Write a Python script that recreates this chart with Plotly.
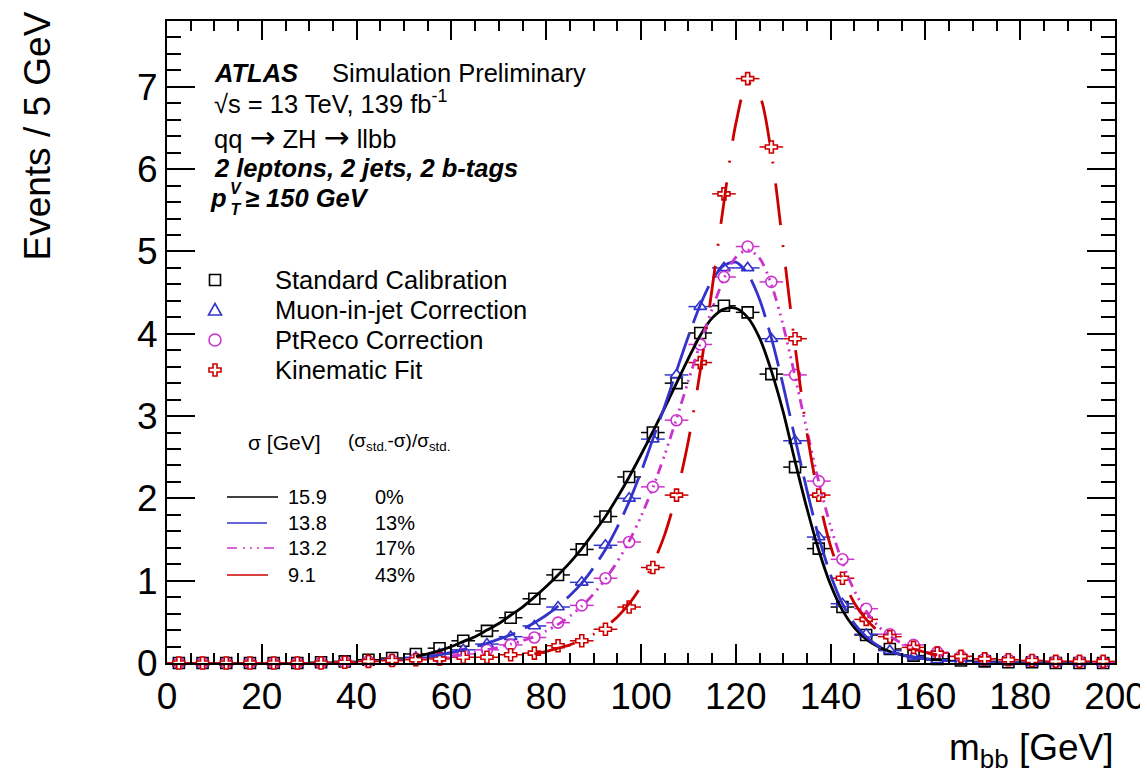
import plotly.graph_objects as go

# ---------------- data ----------------
bin_centers = [2.5, 7.5, 12.5, 17.5, 22.5, 27.5, 32.5, 37.5, 42.5, 47.5,
               52.5, 57.5, 62.5, 67.5, 72.5, 77.5, 82.5, 87.5, 92.5, 97.5,
               102.5, 107.5, 112.5, 117.5, 122.5, 127.5, 132.5, 137.5, 142.5, 147.5,
               152.5, 157.5, 162.5, 167.5, 172.5, 177.5, 182.5, 187.5, 192.5, 197.5]
bin_half_width = 2.5

std_vals = [0.0, 0.0, 0.0, 0.0, 0.0, 0.0, 0.01, 0.02, 0.04, 0.06,
            0.11, 0.18, 0.27, 0.39, 0.55, 0.78, 1.07, 1.38, 1.78, 2.26,
            2.80, 3.40, 4.01, 4.34, 4.26, 3.51, 2.38, 1.39, 0.68, 0.34,
            0.17, 0.09, 0.05, 0.03, 0.02, 0.01, 0.01, 0.0, 0.0, 0.0]
muon_vals = [0.0, 0.0, 0.0, 0.0, 0.0, 0.0, 0.0, 0.01, 0.02, 0.04,
             0.07, 0.11, 0.16, 0.23, 0.32, 0.45, 0.68, 0.98, 1.43, 2.00,
             2.72, 3.50, 4.33, 4.80, 4.80, 3.94, 2.70, 1.53, 0.72, 0.35,
             0.15, 0.08, 0.04, 0.02, 0.01, 0.01, 0.0, 0.0, 0.0, 0.0]
ptreco_vals = [0.0, 0.0, 0.0, 0.0, 0.0, 0.0, 0.0, 0.01, 0.02, 0.03,
               0.05, 0.07, 0.11, 0.16, 0.22, 0.31, 0.49, 0.70, 1.03, 1.47,
               2.14, 2.95, 3.87, 4.69, 5.06, 4.63, 3.50, 2.21, 1.26, 0.66,
               0.35, 0.22, 0.13, 0.08, 0.05, 0.04, 0.03, 0.02, 0.02, 0.01]
kinfit_vals = [0.0, 0.0, 0.0, 0.0, 0.0, 0.0, 0.0, 0.01, 0.02, 0.03,
               0.04, 0.05, 0.07, 0.07, 0.10, 0.12, 0.21, 0.27, 0.41, 0.68,
               1.16, 2.04, 3.65, 5.70, 7.10, 6.27, 3.94, 2.04, 1.03, 0.53,
               0.32, 0.19, 0.12, 0.08, 0.05, 0.04, 0.03, 0.02, 0.02, 0.02]

# fitted curves
std_fit_x = [52.5, 55, 57.5, 60, 62.5, 65, 67.5, 70, 72.5, 75, 77.5, 80, 82.5, 85, 87.5, 90,
             92.5, 95, 97.5, 100, 102.5, 105, 107.5, 110, 112.5, 115, 117.5, 120, 122.5, 125,
             127.5, 130, 132.5, 135, 137.5, 140, 142.5, 145, 147.5, 150, 152.5, 155, 157.5,
             160, 162.5, 165]
std_fit_y = [0.08, 0.11, 0.15, 0.2, 0.26, 0.32, 0.4, 0.48, 0.58, 0.68, 0.8, 0.93, 1.07, 1.22,
             1.39, 1.58, 1.78, 2.01, 2.26, 2.53, 2.81, 3.1, 3.4, 3.7, 3.98, 4.19, 4.3, 4.31,
             4.2, 3.95, 3.55, 3.05, 2.45, 1.88, 1.37, 0.95, 0.64, 0.43, 0.29, 0.2, 0.14, 0.1,
             0.07, 0.05, 0.04, 0.03]
muon_fit_x = [55, 57.5, 60, 62.5, 65, 67.5, 70, 72.5, 75, 77.5, 80, 82.5, 85, 87.5, 90, 92.5,
              95, 97.5, 100, 102.5, 105, 107.5, 110, 112.5, 115, 117.5, 120, 122.5, 125, 127.5,
              130, 132.5, 135, 137.5, 140, 142.5, 145, 147.5, 150, 152.5, 155, 157.5, 160,
              162.5, 165]
muon_fit_y = [0.08, 0.1, 0.13, 0.16, 0.2, 0.24, 0.29, 0.34, 0.41, 0.49, 0.58, 0.69, 0.82, 0.97,
              1.16, 1.38, 1.65, 1.96, 2.32, 2.72, 3.12, 3.55, 3.97, 4.35, 4.65, 4.83, 4.87,
              4.73, 4.42, 3.95, 3.37, 2.73, 2.1, 1.53, 1.07, 0.72, 0.48, 0.32, 0.21, 0.14, 0.1,
              0.07, 0.05, 0.04, 0.03]
ptreco_fit_x = [60, 62.5, 65, 67.5, 70, 72.5, 75, 77.5, 80, 82.5, 85, 87.5, 90, 92.5, 95, 97.5,
                100, 102.5, 105, 107.5, 110, 112.5, 115, 117.5, 120, 122.5, 125, 127.5, 130,
                132.5, 135, 137.5, 140, 142.5, 145, 147.5, 150, 152.5, 155, 157.5, 160, 162.5,
                165]
ptreco_fit_y = [0.08, 0.1, 0.13, 0.16, 0.19, 0.23, 0.27, 0.32, 0.39, 0.47, 0.57, 0.69, 0.84,
                1.02, 1.23, 1.48, 1.78, 2.13, 2.53, 2.97, 3.43, 3.88, 4.3, 4.67, 4.93, 5.02,
                4.92, 4.6, 4.1, 3.48, 2.83, 2.2, 1.66, 1.22, 0.88, 0.63, 0.45, 0.33, 0.24, 0.18,
                0.13, 0.1, 0.08]
kinfit_fit_x = [77.5, 80, 82.5, 85, 87.5, 90, 92.5, 95, 97.5, 100, 102.5, 105, 107.5, 110,
                112.5, 115, 117.5, 120, 122.5, 125, 127.5, 130, 132.5, 135, 137.5, 140, 142.5,
                145, 147.5, 150, 152.5, 155, 157.5, 160, 162.5]
kinfit_fit_y = [0.11, 0.14, 0.18, 0.22, 0.28, 0.35, 0.44, 0.56, 0.72, 0.93, 1.2, 1.56, 2.05,
                2.7, 3.55, 4.55, 5.6, 6.55, 7.05, 6.9, 6.2, 5.05, 3.85, 2.8, 2.0, 1.42, 1.02,
                0.73, 0.53, 0.39, 0.29, 0.22, 0.17, 0.13, 0.1]

series_names = ["Standard Calibration", "Muon-in-jet Correction",
                "PtReco Correction", "Kinematic Fit"]
sigma_labels = ["15.9", "13.8", "13.2", "9.1"]
improvement_labels = ["0%", "13%", "17%", "43%"]

# ---------------- styles ----------------
colors = ["#000000", "#3333cc", "#cc33cc", "#cc0000"]
symbols = ["square", "triangle-up", "circle", "cross"]
msizes = [11, 11, 11, 10]
dashes = ["solid", "40px,11px", "10px,6px,2px,5px,2px,5px,2px,5px", "42px,20px,2px,20px"]
FONT = "Liberation Sans, Arial, Helvetica, sans-serif"

# the page body adds an 8px margin; the figure is sized so the plot frame
# lands at x 167..1115, y 21..663 of the 1148x773 window
OFF = 8
W, H = 1148 - OFF, 773 - OFF
L, R, T, B = 167 - OFF, 33, 21 - OFF, 110
PW, PH = W - L - R, H - T - B
X0, Y1 = 167, 663   # window pixel of the plot frame's left / bottom


def px(x):
    return (x - X0) / PW


def py(y):
    return (Y1 - y) / PH


fig = go.Figure()

vals = [std_vals, muon_vals, ptreco_vals, kinfit_vals]
for i in range(4):
    fig.add_trace(go.Scatter(
        x=bin_centers, y=vals[i], mode="markers", name=series_names[i],
        marker=dict(symbol=symbols[i], size=msizes[i], color="white",
                    line=dict(color=colors[i], width=1.6)),
        error_x=dict(type="constant", value=bin_half_width, width=0,
                     thickness=1.5, color=colors[i]),
        showlegend=False, cliponaxis=False))

fits = [(std_fit_x, std_fit_y), (muon_fit_x, muon_fit_y),
        (ptreco_fit_x, ptreco_fit_y), (kinfit_fit_x, kinfit_fit_y)]
for i in range(4):
    fx, fy = fits[i]
    fig.add_trace(go.Scatter(
        x=fx, y=fy, mode="lines", line=dict(color=colors[i], width=2.8, dash=dashes[i],
                                            shape="spline", smoothing=0.8),
        showlegend=False, hoverinfo="skip"))

annotations = []
shapes = []


def txt(x, y, s, size, anchor="left", **kw):
    annotations.append(dict(x=px(x), y=py(y), xref="paper", yref="paper", text=s,
                            showarrow=False, xanchor=anchor, yanchor="middle",
                            borderpad=0,
                            font=dict(family=FONT, size=size, color="black"), **kw))


ARROW = "<span style='font-family:DejaVu Sans;font-size:31px'>→</span>"

# header text
txt(213, 73, "<b><i>ATLAS</i></b>", 25.5)
txt(331, 73, "Simulation Preliminary", 25.5)
txt(213, 102, "√s = 13 TeV, 139 fb<sup>-1</sup>", 25.5)
txt(213, 137, "qq " + ARROW + " ZH " + ARROW + " llbb", 25.5)
txt(213, 168, "<b><i>2 leptons, 2 jets, 2 b-tags</i></b>", 25.5)
txt(228, 198, "<b><i>p</i></b>", 25.5, anchor="right")
txt(229, 199, "<b><i>V<br>T</i></b>", 16)
txt(244, 198, "<b><i>≥ 150 GeV</i></b>", 25.5)

# marker legend
leg_y = [280, 310, 340, 370]
for i in range(4):
    txt(274, leg_y[i], series_names[i], 25.5)
    cx, cy = px(215), py(leg_y[i])
    base = dict(xref="paper", yref="paper", xsizemode="pixel", ysizemode="pixel",
                xanchor=cx, yanchor=cy, line=dict(color=colors[i], width=1.6),
                fillcolor="rgba(0,0,0,0)", layer="above")
    if i == 0:
        shapes.append(dict(type="rect", x0=-5.5, x1=5.5, y0=-5.5, y1=5.5, **base))
    elif i == 1:
        shapes.append(dict(type="path", path="M-6.5,-5 L6.5,-5 L0,6.5 Z", **base))
    elif i == 2:
        shapes.append(dict(type="circle", x0=-6, x1=6, y0=-6, y1=6, **base))
    else:
        shapes.append(dict(type="path",
                           path="M-2,6 L2,6 L2,2 L6,2 L6,-2 L2,-2 L2,-6 L-2,-6 L-2,-2 L-6,-2 L-6,2 L-2,2 Z",
                           **base))

# sigma legend
txt(247, 442, "σ [GeV]", 21)
txt(347, 442, "(σ<sub>std.</sub>-σ)/σ<sub>std.</sub>", 19)
row_y = [497, 523, 548, 575]
line_end = [278, 268, 278, 268]
for i in range(4):
    shapes.append(dict(type="line", xref="paper", yref="paper",
                       x0=px(227), x1=px(line_end[i]), y0=py(row_y[i]), y1=py(row_y[i]),
                       line=dict(color=colors[i], width=1.6, dash=dashes[i])))
    txt(287, row_y[i], sigma_labels[i], 20)
    txt(374, row_y[i], improvement_labels[i], 20)

# axis titles
annotations.append(dict(x=px(37), y=py(10), xref="paper", yref="paper",
                        text="Events / 5 GeV", textangle=-90, showarrow=False,
                        xanchor="center", yanchor="top",
                        font=dict(family=FONT, size=37, color="black")))
annotations.append(dict(x=1.0, y=py(726), xref="paper", yref="paper",
                        text="m<sub>bb</sub> [GeV]", showarrow=False,
                        xanchor="right", yanchor="top", borderpad=0,
                        font=dict(family=FONT, size=37, color="black")))

axis_common = dict(showline=True, linecolor="black", linewidth=2, mirror="ticks",
                   ticks="inside", tickcolor="black", tickwidth=1.6,
                   showgrid=False, zeroline=False, automargin=False,
                   tickfont=dict(family=FONT, size=37, color="black"))

fig.update_layout(
    width=W, height=H,
    margin=dict(l=L, r=R, t=T, b=B, autoexpand=False),
    paper_bgcolor="white", plot_bgcolor="white",
    showlegend=False,
    xaxis=dict(range=[0, 200], dtick=20, ticklen=19,
               minor=dict(dtick=5, ticklen=10, ticks="inside", tickcolor="black", tickwidth=1.6),
               **axis_common),
    yaxis=dict(range=[0, 7.8], dtick=1, ticklen=28,
               minor=dict(dtick=0.2, ticklen=14, ticks="inside", tickcolor="black", tickwidth=1.6),
               **axis_common),
    annotations=annotations,
    shapes=shapes,
)

fig.write_html("out.html")
